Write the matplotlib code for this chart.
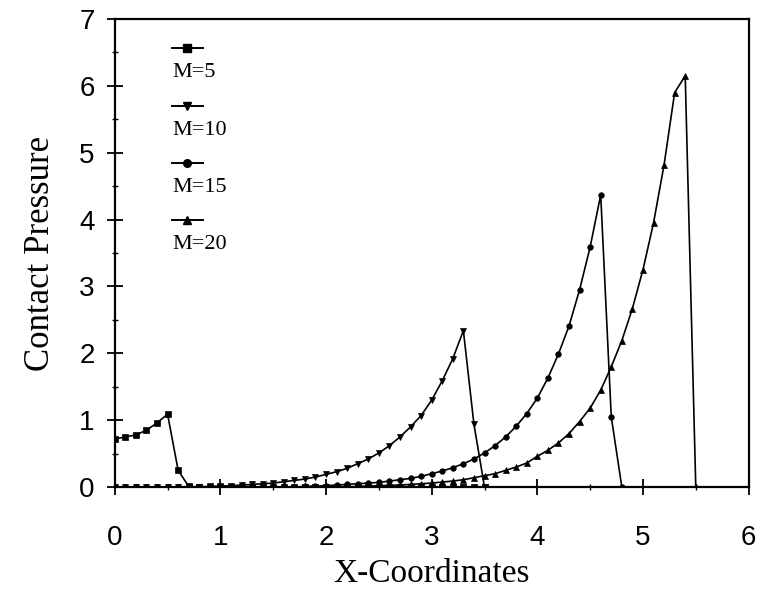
import matplotlib
matplotlib.use("Agg")
import matplotlib.pyplot as plt
from matplotlib.lines import Line2D
from matplotlib.ticker import MultipleLocator

# contact pressure, x step 0.1
x_m5 = [round(0.1 * i, 1) for i in range(36)]
p_m5 = [0.72, 0.75, 0.78, 0.85, 0.96, 1.09, 0.25, 0.01] + [0.0] * 28

x_m10 = [round(0.1 * i, 1) for i in range(36)]
p_m10 = [0.0, 0.0, 0.0, 0.0, 0.0, 0.0, 0.0, 0.0, 0.0, 0.01,
         0.015, 0.02, 0.03, 0.04, 0.05, 0.06, 0.08, 0.10, 0.12, 0.15,
         0.19, 0.23, 0.28, 0.35, 0.42, 0.51, 0.62, 0.75, 0.90, 1.07,
         1.30, 1.59, 1.92, 2.34, 0.94, 0.0]

x_m15 = [round(0.1 * i, 1) for i in range(49)]
p_m15 = [0.0] * 18 + [0.01, 0.015,
         0.02, 0.03, 0.04, 0.05, 0.06, 0.07, 0.09, 0.11, 0.13, 0.16,
         0.20, 0.24, 0.29, 0.35, 0.42, 0.51, 0.62, 0.75, 0.91, 1.10,
         1.33, 1.63, 1.99, 2.41, 2.95, 3.59, 4.37, 1.05, 0.0]

x_m20 = [round(0.1 * i, 1) for i in range(56)]
p_m20 = [0.0] * 23 + [0.01, 0.015, 0.02, 0.025, 0.03, 0.04, 0.05,
         0.06, 0.075, 0.09, 0.11, 0.14, 0.17, 0.20, 0.25, 0.30, 0.36,
         0.46, 0.55, 0.66, 0.80, 0.98, 1.18, 1.45, 1.80, 2.19, 2.67,
         3.25, 3.95, 4.82, 5.90, 6.15, 0.0]

series = [
    ("M=5", x_m5, p_m5, "s"),
    ("M=10", x_m10, p_m10, "v"),
    ("M=15", x_m15, p_m15, "o"),
    ("M=20", x_m20, p_m20, "^"),
]

fig = plt.figure(figsize=(7.6, 5.94), dpi=100)
ax = fig.add_axes([0.151, 0.180, 0.834, 0.788])

for name, xs, ps, mk in series:
    ax.plot(xs, ps, color="black", linewidth=1.2, marker=mk,
            markersize=4, markerfacecolor="black", markeredgewidth=0.5)

ax.set_xlim(0, 6)
ax.set_ylim(0, 7)
ax.xaxis.set_major_locator(MultipleLocator(1))
ax.xaxis.set_minor_locator(MultipleLocator(0.5))
ax.yaxis.set_major_locator(MultipleLocator(1))
ax.yaxis.set_minor_locator(MultipleLocator(0.5))
ax.tick_params(which="major", direction="inout", length=11, width=1.3)
ax.tick_params(which="minor", direction="inout", length=5, width=1.0)
ax.tick_params(axis="x", which="major", pad=22)
ax.tick_params(axis="y", which="major", pad=9)
for lab in ax.get_xticklabels() + ax.get_yticklabels():
    lab.set_fontfamily("Liberation Sans")
    lab.set_fontsize(20)
for sp in ax.spines.values():
    sp.set_linewidth(1.6)

ax.set_xlabel("X-Coordinates", family="Liberation Serif", fontsize=24, labelpad=5)
ax.set_ylabel("Contact Pressure", family="Liberation Serif", fontsize=25, labelpad=16)

# hand-made legend: sample line with the label underneath
leg_y = [0.939, 0.814, 0.692, 0.571]
for (name, xs, ps, mk), yy in zip(series, leg_y):
    ax.add_line(Line2D([0.09, 0.139], [yy, yy], transform=ax.transAxes,
                       color="black", linewidth=1.4))
    ax.add_line(Line2D([0.114], [yy], transform=ax.transAxes, marker=mk,
                       markersize=5.5, color="black", linestyle="none"))
    ax.text(0.091, yy - 0.053, name, transform=ax.transAxes, ha="left",
            va="center", family="Liberation Serif", fontsize=16)

fig.savefig("out.png", dpi=100)
